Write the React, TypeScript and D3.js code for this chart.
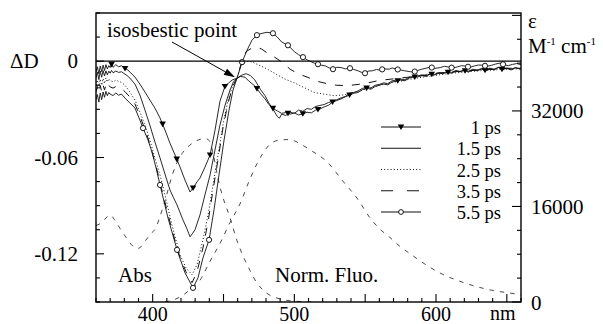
import React from 'react';
import * as d3 from 'd3';

type P = [number, number];

// Transient absorption ΔD (left axis) vs wavelength (nm)
const ps1: P[] = [[360,-0.0068],[361,-0.0035],[362,-0.0078],[363,-0.0030],[364,-0.0065],[365,-0.0025],[366,-0.0058],[367,-0.0022],[368,-0.0048],[369,-0.0028],[370,-0.0040],[371,-0.0020],[372,-0.0038],[374,-0.0022],[376,-0.0035],[378,-0.0028],[380,-0.0044],[382,-0.0052],[384,-0.0068],[387.5,-0.0099],[391,-0.0143],[394.6,-0.0193],[398,-0.0242],[401.6,-0.0292],[405.2,-0.0354],[408.7,-0.0429],[412.2,-0.0510],[415.8,-0.0585],[419.3,-0.0659],[422.8,-0.0740],[426.4,-0.0815],[428.5,-0.0790],[431.3,-0.0752],[433.4,-0.0728],[436.9,-0.0660],[440.5,-0.0585],[444,-0.0430],[447.5,-0.0250],[451.1,-0.0155],[456,-0.0118],[459.5,-0.0106],[462,-0.0095],[465.2,-0.0100],[468,-0.0125],[472.2,-0.0155],[476,-0.0200],[479.3,-0.0235],[482,-0.0270],[485,-0.0295],[488,-0.0310],[491,-0.0325],[494,-0.0320],[497,-0.0330],[500,-0.0322],[503,-0.0335],[506,-0.0328],[509,-0.0318],[512,-0.0322],[515,-0.0305],[518,-0.0298],[521,-0.0285],[524,-0.0275],[527,-0.0255],[530,-0.0245],[533,-0.0235],[536,-0.0222],[539,-0.0211],[542,-0.0200],[545,-0.0195],[548,-0.0178],[551,-0.0168],[554,-0.0175],[557,-0.0158],[560,-0.0150],[563,-0.0142],[566,-0.0148],[569,-0.0130],[572,-0.0125],[575,-0.0118],[578,-0.0122],[581,-0.0105],[584,-0.0100],[587,-0.0098],[590,-0.0090],[593,-0.0095],[596,-0.0080],[599,-0.0086],[602,-0.0075],[605,-0.0078],[608,-0.0068],[611,-0.0075],[614,-0.0062],[617,-0.0066],[620,-0.0058],[623,-0.0068],[626,-0.0055],[629,-0.0060],[632,-0.0050],[635,-0.0058],[638,-0.0046],[641,-0.0055],[644,-0.0040],[647,-0.0052],[650,-0.0045],[653,-0.0055],[656,-0.0042],[660,-0.0050]];

const ps15: P[] = [[360,-0.0105],[361,-0.0068],[362,-0.0115],[363,-0.0062],[364,-0.0100],[365,-0.0058],[366,-0.0092],[367,-0.0060],[368,-0.0085],[369,-0.0062],[370,-0.0075],[371,-0.0058],[372,-0.0072],[374,-0.0062],[376,-0.0070],[378,-0.0066],[380.5,-0.0081],[382,-0.0090],[384,-0.0106],[387.5,-0.0143],[391,-0.0211],[394.6,-0.0305],[398,-0.0398],[401.6,-0.0503],[405.2,-0.0603],[408.7,-0.0703],[412.2,-0.0802],[414.7,-0.0850],[417.2,-0.0896],[421.4,-0.0989],[424,-0.1040],[426.4,-0.1094],[428,-0.1075],[429.9,-0.1050],[433.4,-0.0958],[436.9,-0.0833],[440.5,-0.0709],[444,-0.0553],[447.5,-0.0398],[451.1,-0.0274],[454.6,-0.0180],[457,-0.0130],[459.5,-0.0106],[463,-0.0087],[466,-0.0078],[469,-0.0090],[472.2,-0.0118],[476,-0.0175],[479.3,-0.0215],[482,-0.0260],[485,-0.0300],[488,-0.0345],[489.5,-0.0355],[491,-0.0330],[494,-0.0338],[497,-0.0318],[500,-0.0325],[503,-0.0305],[506,-0.0312],[509,-0.0295],[512,-0.0300],[515,-0.0282],[518,-0.0276],[521,-0.0270],[524,-0.0258],[527,-0.0250],[530,-0.0240],[533,-0.0228],[536,-0.0220],[539,-0.0200],[542,-0.0195],[545,-0.0185],[548,-0.0170],[551,-0.0162],[554,-0.0168],[557,-0.0150],[560,-0.0145],[563,-0.0135],[566,-0.0140],[569,-0.0122],[572,-0.0118],[575,-0.0112],[578,-0.0115],[581,-0.0100],[584,-0.0095],[587,-0.0092],[590,-0.0085],[593,-0.0090],[596,-0.0078],[599,-0.0082],[602,-0.0072],[605,-0.0075],[608,-0.0064],[611,-0.0070],[614,-0.0058],[617,-0.0064],[620,-0.0054],[623,-0.0062],[626,-0.0050],[629,-0.0056],[632,-0.0046],[635,-0.0054],[638,-0.0044],[641,-0.0050],[644,-0.0038],[647,-0.0048],[650,-0.0042],[653,-0.0050],[656,-0.0040],[660,-0.0046]];

const ps25: P[] = [[360,-0.0150],[361,-0.0118],[362,-0.0165],[363,-0.0112],[364,-0.0150],[365,-0.0108],[366,-0.0140],[367,-0.0105],[368,-0.0130],[369,-0.0110],[370,-0.0122],[372,-0.0128],[374,-0.0118],[376,-0.0126],[378,-0.0132],[380.5,-0.0150],[384,-0.0193],[387.5,-0.0242],[391,-0.0317],[394.6,-0.0398],[398,-0.0491],[401.6,-0.0603],[405.2,-0.0709],[408.7,-0.0833],[413.6,-0.1020],[419.3,-0.1206],[423.5,-0.1287],[427.8,-0.1331],[431.3,-0.1268],[435.5,-0.1113],[439.1,-0.0958],[442.6,-0.0771],[446.1,-0.0585],[449.6,-0.0398],[453.2,-0.0242],[456.7,-0.0149],[459.5,-0.0106],[462,-0.0040],[465.2,-0.0005],[468,0.0000],[471,-0.0008],[475,-0.0025],[480,-0.0045],[486,-0.0075],[493,-0.0110],[500,-0.0135],[507,-0.0165],[514,-0.0195],[521,-0.0205],[528,-0.0215],[535,-0.0210],[542,-0.0195],[546,-0.0185],[550,-0.0175],[555,-0.0165],[560,-0.0150],[565,-0.0142],[570,-0.0130],[575,-0.0125],[580,-0.0115],[585,-0.0108],[590,-0.0100],[595,-0.0095],[600,-0.0088],[605,-0.0082],[610,-0.0075],[615,-0.0072],[620,-0.0068],[625,-0.0064],[630,-0.0060],[635,-0.0058],[640,-0.0055],[645,-0.0052],[650,-0.0050],[655,-0.0049],[660,-0.0048]];

const ps35: P[] = [[360,-0.0190],[361,-0.0158],[362,-0.0200],[363,-0.0152],[364,-0.0190],[365,-0.0148],[366,-0.0180],[367,-0.0148],[368,-0.0170],[369,-0.0152],[370,-0.0160],[372,-0.0168],[374,-0.0158],[376,-0.0166],[378,-0.0172],[380.5,-0.0190],[384,-0.0224],[387.5,-0.0267],[391,-0.0342],[393.9,-0.0410],[396.7,-0.0479],[400.2,-0.0585],[403.1,-0.0678],[405.9,-0.0783],[412.2,-0.1001],[417.9,-0.1188],[423.5,-0.1312],[427.8,-0.1380],[431.3,-0.1312],[435.5,-0.1163],[439.1,-0.1001],[442.6,-0.0802],[446.1,-0.0616],[449.6,-0.0417],[453.2,-0.0261],[456.7,-0.0155],[459.5,-0.0106],[463,0.0000],[466,0.0060],[470,0.0081],[473.6,0.0087],[477,0.0075],[481,0.0050],[486,0.0025],[492,-0.0010],[497,-0.0050],[503,-0.0080],[509,-0.0099],[516,-0.0125],[523,-0.0140],[530,-0.0150],[538,-0.0152],[545,-0.0145],[552,-0.0135],[560,-0.0120],[570,-0.0110],[580,-0.0100],[590,-0.0090],[600,-0.0075],[610,-0.0068],[620,-0.0062],[630,-0.0055],[640,-0.0052],[650,-0.0045],[660,-0.0042]];

const ps55: P[] = [[360,-0.0240],[361,-0.0208],[362,-0.0255],[363,-0.0198],[364,-0.0240],[365,-0.0192],[366,-0.0225],[367,-0.0188],[368,-0.0215],[369,-0.0195],[370,-0.0205],[372,-0.0214],[374,-0.0198],[376,-0.0212],[378,-0.0205],[380.5,-0.0230],[384,-0.0261],[387.5,-0.0292],[391,-0.0367],[393.2,-0.0417],[396.7,-0.0491],[399.5,-0.0566],[402.4,-0.0665],[405.2,-0.0771],[410.8,-0.0976],[417.2,-0.1175],[422.8,-0.1318],[428.5,-0.1412],[432,-0.1349],[435.5,-0.1225],[439.8,-0.1113],[443.3,-0.0926],[446.8,-0.0709],[450.4,-0.0491],[453.9,-0.0305],[456.7,-0.0180],[459.5,-0.0106],[463.1,-0.0006],[466.6,0.0068],[470.1,0.0131],[473.6,0.0162],[476.5,0.0172],[480.7,0.0180],[484.9,0.0174],[488,0.0150],[491,0.0120],[495.5,0.0099],[500,0.0060],[503,0.0040],[506.1,0.0025],[509,0.0008],[511,0.0000],[514,-0.0012],[516.7,-0.0019],[519,-0.0025],[522,-0.0030],[524.5,-0.0042],[527.3,-0.0050],[530,-0.0038],[533,-0.0040],[536,-0.0048],[539.3,-0.0044],[542,-0.0052],[545,-0.0060],[547,-0.0068],[549.9,-0.0075],[552,-0.0062],[555,-0.0060],[558,-0.0052],[560.5,-0.0056],[563,-0.0048],[567,-0.0050],[569,-0.0042],[572,-0.0050],[575,-0.0055],[578,-0.0060],[581,-0.0065],[584,-0.0068],[587,-0.0058],[590,-0.0050],[593,-0.0044],[596,-0.0037],[599,-0.0045],[603,-0.0040],[606,-0.0032],[609,-0.0037],[612,-0.0042],[615,-0.0036],[618,-0.0028],[621,-0.0031],[624,-0.0038],[627,-0.0030],[630,-0.0024],[633,-0.0025],[636,-0.0032],[639,-0.0026],[642,-0.0018],[645.2,-0.0012],[648,-0.0022],[651,-0.0028],[654,-0.0020],[657,-0.0015],[660,-0.0022]];

// Marker wavelengths
const tri1ps = [371, 380.5, 407, 417, 428.5, 440.5, 451, 473.6, 484.9, 495.5, 506, 516.7, 527, 539, 551, 573, 585, 597, 608.5, 620.5, 634.6, 646.6];
const circ55 = [393.2, 405.2, 417.2, 428.5, 439.8, 463.1, 473.6, 484.9, 495.5, 506.1, 516.7, 527.3, 539.3, 549.9, 562, 573, 585, 597, 611, 622.6, 634.6, 647.3];

// Steady-state spectra (right axis, ε in M^-1 cm^-1)
const absSpec: P[] = [[360,12800],[364,13300],[368,14300],[370,14600],[373,13800],[377,12300],[381,10900],[385,9600],[389,8950],[392,9300],[395,10300],[399,11500],[402,12300],[405,14200],[409,17200],[414,21400],[419,24200],[425,26000],[431,27000],[437,27400],[440,27000],[443,24500],[446,20800],[449,18000],[454.6,14100],[459.5,10300],[464,7600],[468.7,5300],[473,3400],[477.9,2000],[483,1100],[487.8,650],[494,300],[500,150],[506,50],[512,0]];
const fluoSpec: P[] = [[408.7,0],[414,300],[419.3,830],[426,2000],[433.4,3650],[440,6600],[447.5,9800],[454.6,13300],[461.6,16400],[468,20200],[474.4,23500],[482.8,26400],[489,27100],[494.8,27200],[500,27000],[504,26500],[513,25200],[523,23500],[534.4,20200],[544.2,17400],[553.4,14100],[560,12300],[567.5,10800],[574.6,9300],[581.6,8100],[588.7,6900],[595.8,5800],[605,4600],[614.8,3650],[624,2900],[633.2,2300],[642,1850],[652.2,1500],[660,1200]];

const xTicks = d3.range(360, 661, 10);
const xLabels = [400, 500, 600];
const yLeftTicks = d3.range(-10, 3).map(i => +(i * 0.015).toFixed(3));
const yLeftLabels = [0, -0.06, -0.12];
const yRightTicks = d3.range(0, 13).map(i => i * 4000);
const yRightLabels = [0, 16000, 32000];
const legendLabels = ['1 ps', '1.5 ps', '2.5 ps', '3.5 ps', '5.5 ps'];
const iso: P = [459.5, -0.0106];

const W = 603, H = 324;
const L = 96, R = 521, T = 13, B = 302;
const FONT = "'Liberation Serif', 'DejaVu Serif', 'Liberation Sans', serif";

function interp(data: P[], wl: number) {
  const i = d3.bisector((d: P) => d[0]).left(data, wl);
  if (i <= 0) return data[0][1];
  if (i >= data.length) return data[data.length - 1][1];
  const a = data[i - 1], b = data[i];
  const t = (wl - a[0]) / (b[0] - a[0]);
  return a[1] + t * (b[1] - a[1]);
}

const tri = (x: number, y: number) => `M${x - 3.3},${y - 2.6}L${x + 3.3},${y - 2.6}L${x},${y + 3}Z`;

function Txt(props: any) {
  const { size = 21, ...rest } = props;
  return <text fontFamily={FONT} fontSize={size} fill="#000" {...rest} />;
}

export default function App() {
  const x = d3.scaleLinear().domain([360, 660]).range([L, R]);
  const yL = d3.scaleLinear().domain([-0.15, 0.03]).range([B, T]);
  const yR = d3.scaleLinear().domain([0, 48400]).range([B, T]);
  const lineL = d3.line<P>().x(d => x(d[0])).y(d => yL(d[1]));
  const lineR = d3.line<P>().x(d => x(d[0])).y(d => yR(d[1])).curve(d3.curveMonotoneX);

  const series = [
    { data: ps1, dash: undefined as string | undefined, marker: 'tri', marks: tri1ps },
    { data: ps15, dash: undefined, marker: '', marks: [] as number[] },
    { data: ps25, dash: '1,2.2', marker: '', marks: [] },
    { data: ps35, dash: '8,9', marker: '', marks: [] },
    { data: ps55, dash: undefined, marker: 'circ', marks: circ55 },
  ];

  const stroke = '#111';
  const isoX = x(iso[0]) - 2, isoY = yL(iso[1]) - 1;
  const ax0 = 172, ay0 = 42;
  const ang = Math.atan2(isoY - ay0, isoX - ax0);
  const hl = 11, hw = 3.5;
  const bx = isoX - hl * Math.cos(ang), by = isoY - hl * Math.sin(ang);
  const head = `M${isoX},${isoY}L${bx + hw * Math.sin(ang)},${by - hw * Math.cos(ang)}L${bx - hw * Math.sin(ang)},${by + hw * Math.cos(ang)}Z`;

  return (
    <svg width={W} height={H} style={{ position: 'absolute', left: 0, top: 0, background: '#fff' }}>
      <defs>
        <clipPath id="plot"><rect x={L} y={T} width={R - L} height={B - T} /></clipPath>
      </defs>
      <rect x={0} y={0} width={W} height={H} fill="#fff" />
      <g clipPath="url(#plot)">
        <path d={lineR(absSpec) || ''} fill="none" stroke="#333" strokeWidth={0.9} strokeDasharray="4.5,6" />
        <path d={lineR(fluoSpec) || ''} fill="none" stroke="#333" strokeWidth={0.9} strokeDasharray="4.5,6" />
        {series.map((s, i) => (
          <path key={i} d={lineL(s.data) || ''} fill="none" stroke={stroke} strokeWidth={s.dash ? 1 : 0.9} strokeDasharray={s.dash} />
        ))}
        {series.map((s, i) => s.marks.map((wl, j) => {
          const px = x(wl), py = yL(interp(s.data, wl));
          return s.marker === 'tri'
            ? <path key={`${i}-${j}`} d={tri(px, py)} fill="#000" />
            : <circle key={`${i}-${j}`} cx={px} cy={py} r={2.6} fill="#fff" stroke="#000" strokeWidth={0.9} />;
        }))}
      </g>
      <rect x={L} y={T} width={R - L} height={B - T} fill="none" stroke="#000" strokeWidth={1.4} />
      <line x1={L} x2={R} y1={yL(0)} y2={yL(0)} stroke="#000" strokeWidth={1.4} />
      {yLeftTicks.map((v, i) => {
        const major = Math.abs(v / 0.06 - Math.round(v / 0.06)) < 1e-6;
        return <line key={i} x1={L} x2={L + (major ? 8 : 4)} y1={yL(v)} y2={yL(v)} stroke="#000" strokeWidth={1.1} />;
      })}
      {yLeftLabels.map((v, i) => (
        <Txt key={i} x={78} y={yL(v) + 7} textAnchor="end">{v === 0 ? '0' : v.toFixed(2)}</Txt>
      ))}
      {yRightTicks.map((v, i) => {
        const major = v % 16000 === 0;
        return <line key={i} x1={R} x2={R - (major ? 9 : 4)} y1={yR(v)} y2={yR(v)} stroke="#000" strokeWidth={1.1} />;
      })}
      {yRightLabels.map((v, i) => (
        <Txt key={i} x={531} y={yR(v) + 7.5}>{String(v)}</Txt>
      ))}
      {xTicks.map((v, i) => {
        const major = v % 50 === 0;
        return <line key={i} x1={x(v)} x2={x(v)} y1={B} y2={B - (major ? 8 : 4)} stroke="#000" strokeWidth={1.1} />;
      })}
      {xLabels.map((v, i) => (
        <Txt key={i} size={20} x={x(v)} y={321} textAnchor="middle">{String(v)}</Txt>
      ))}
      <Txt size={20} x={490} y={320}>nm</Txt>
      <Txt x={10} y={68}>ΔD</Txt>
      <Txt x={528} y={28}>ε</Txt>
      <Txt x={528} y={53}>M<tspan fontSize={11} dy={-8}>-1</tspan><tspan dy={8}> cm</tspan><tspan fontSize={11} dy={-8}>-1</tspan></Txt>
      <Txt x={107} y={37}>isosbestic point</Txt>
      <line x1={ax0} y1={ay0} x2={bx} y2={by} stroke="#000" strokeWidth={1} />
      <path d={head} fill="#000" />
      <Txt x={118} y={282}>Abs</Txt>
      <Txt x={275} y={282}>Norm. Fluo.</Txt>
      {series.map((s, i) => {
        const ly = 127 + i * 21.25;
        return (
          <g key={i}>
            <line x1={381} x2={421} y1={ly} y2={ly} stroke={stroke} strokeWidth={s.dash ? 1 : 1.2} strokeDasharray={s.dash === '8,9' ? '12,14' : s.dash} />
            {s.marker === 'tri' && <path d={tri(401, ly)} fill="#000" />}
            {s.marker === 'circ' && <circle cx={401} cy={ly} r={2.4} fill="#fff" stroke="#000" strokeWidth={0.9} />}
            <Txt size={18.5} x={501} y={ly + 7} textAnchor="end">{legendLabels[i]}</Txt>
          </g>
        );
      })}
    </svg>
  );
}
